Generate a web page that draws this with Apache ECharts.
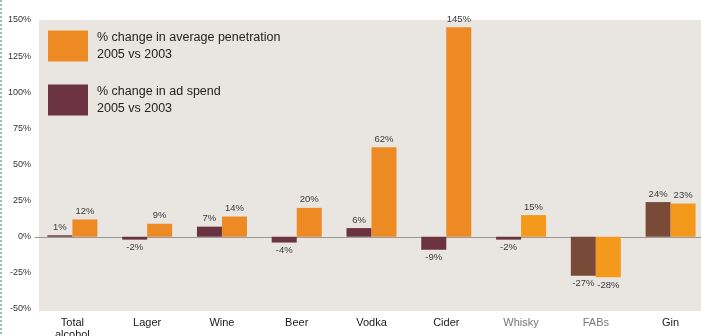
<!DOCTYPE html>
<html>
<head>
<meta charset="utf-8">
<style>
  html, body { margin: 0; padding: 0; background: #ffffff; }
  #chart { width: 701px; height: 336px; }
</style>
<script src="https://cdn.jsdelivr.net/npm/echarts@6/dist/echarts.min.js"></script>
</head>
<body>
<div id="chart"></div>
<script>
// Drink categories along the x axis
const categories = ['Total\nalcohol', 'Lager', 'Wine', 'Beer', 'Vodka', 'Cider', 'Whisky', 'FABs', 'Gin'];

// % change 2005 vs 2003
const adSpend = [1, -2, 7, -4, 6, -9, -2, -27, 24];
const penetration = [12, 9, 14, 20, 62, 145, 15, -28, 23];

// Value axis ticks
const yMin = -50, yMax = 150, yStep = 25;

const penName = '% change in average penetration\n2005 vs 2003';
const adName = '% change in ad spend\n2005 vs 2003';

const chart = echarts.init(document.getElementById('chart'), null, { renderer: 'canvas' });

// Labels sit above positive bars and below negative ones;
// the last few columns print in a slightly different ink.
function toItems(values, altFrom, altColor) {
  return values.map((v, i) => {
    const item = { value: v, label: { position: v < 0 ? 'bottom' : 'top' } };
    if (i >= altFrom) item.itemStyle = { color: altColor };
    return item;
  });
}

const labelStyle = {
  show: true,
  formatter: p => p.value + '%',
  fontSize: 9.5,
  color: '#3a3a3a',
  distance: 3,
  fontFamily: 'Liberation Sans, Arial, sans-serif'
};

chart.setOption({
  animation: false,
  backgroundColor: '#ffffff',
  textStyle: { fontFamily: 'Liberation Sans, Arial, sans-serif' },
  graphic: [
    {
      type: 'rect', z: -10, silent: true,
      shape: { x: 39, y: 20, width: 662, height: 291 },
      style: { fill: '#e9e6e1' }
    },
    {
      type: 'line', silent: true,
      shape: { x1: 1, y1: 0, x2: 1, y2: 336 },
      style: { stroke: '#5fb98f', lineWidth: 1.5, lineDash: [2, 2] }
    }
  ],
  grid: {
    left: 35, right: -7, top: 20, bottom: 27,
    containLabel: false,
    outerBoundsMode: 'none'
  },
  legend: {
    orient: 'vertical',
    left: 48, top: 29,
    padding: 0,
    itemWidth: 40, itemHeight: 31,
    itemGap: 20,
    icon: 'rect',
    data: [penName, adName],
    textStyle: {
      fontSize: 12.5, color: '#222', lineHeight: 17,
      padding: [0, 0, 0, 4]
    },
    selectedMode: false
  },
  xAxis: {
    type: 'category',
    data: categories,
    axisTick: { show: false },
    axisLine: { show: true, onZero: true, lineStyle: { color: '#9a9a98', width: 1 } },
    axisLabel: {
      fontSize: 11,
      margin: 8,
      lineHeight: 12,
      interval: 0,
      color: (v, i) => (i === 6 || i === 7) ? '#777777' : '#1a1a1a'
    },
    splitLine: { show: false }
  },
  yAxis: {
    type: 'value',
    min: yMin, max: yMax, interval: yStep,
    axisLine: { show: false },
    axisTick: { show: false },
    splitLine: { show: false },
    axisLabel: { formatter: '{value}%', fontSize: 9, color: '#333', margin: 4 }
  },
  series: [
    {
      name: adName,
      type: 'bar',
      barWidth: 25,
      barGap: '0%',
      data: toItems(adSpend, 7, '#7a4a38'),
      itemStyle: { color: '#6b3241' },
      label: labelStyle
    },
    {
      name: penName,
      type: 'bar',
      barWidth: 25,
      barGap: '0%',
      data: toItems(penetration, 6, '#f4991c'),
      itemStyle: { color: '#ee8a24' },
      label: labelStyle
    }
  ]
});
</script>
</body>
</html>
